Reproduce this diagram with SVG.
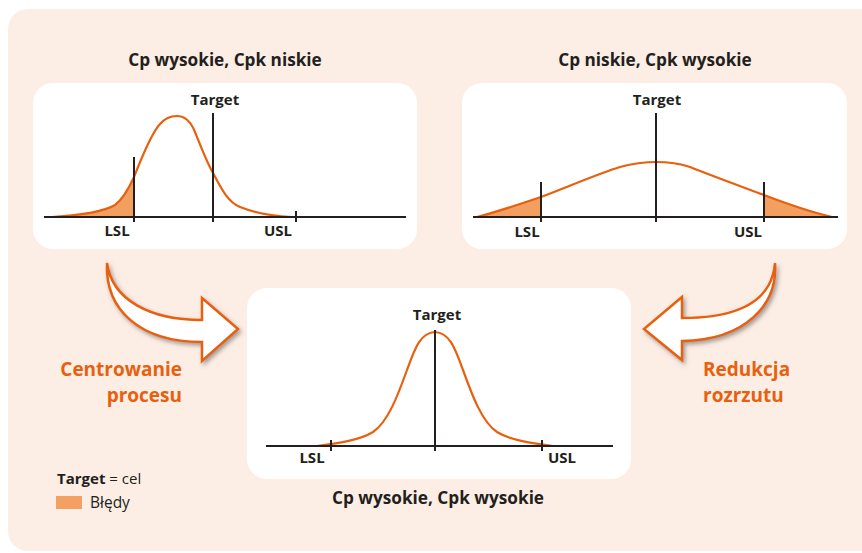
<svg xmlns="http://www.w3.org/2000/svg" width="862" height="553" viewBox="0 0 862 553">
<defs>
<style>
.t{font-family:"Open Sans","Liberation Sans",sans-serif;fill:#231f20}
.b{font-weight:bold}
.ttl{font-size:17.2px;font-weight:bold;text-anchor:middle}
.lbl{font-size:15px;font-weight:bold;text-anchor:middle}
.or{font-family:"Open Sans","Liberation Sans",sans-serif;font-size:19px;font-weight:bold;fill:#e8600e}
.box{fill:#ffffff}
.ax{stroke:#231f20;stroke-width:2;fill:none}
.cv{stroke:#e8600e;stroke-width:2.2;fill:none}
.sh{fill:#f29f5f;stroke:none}
.arr{fill:#ffffff;stroke:#e8600e;stroke-width:2.5;stroke-linejoin:miter;filter:url(#ds)}
</style>
<filter id="ds" x="-30%" y="-30%" width="160%" height="160%">
<feDropShadow dx="2" dy="2.5" stdDeviation="2" flood-color="#555" flood-opacity="0.55"/>
</filter>
</defs>
<rect width="862" height="553" fill="#ffffff"/>
<rect id="background" x="8" y="9" width="880" height="542" rx="20" fill="#fdeee5"/>

<g id="panel-left">
<text class="t ttl" x="225" y="66">Cp wysokie, Cpk niskie</text>
<rect class="box" x="33" y="83" width="384" height="166" rx="20"/>
<path class="sh" d="M52,217 C85,215 105,211 115,205 C123,199 129,188 134,177 L134,217 Z"/>
<path class="cv" d="M52,217 C85,215 105,211 115,205 C123,199 129,188 134,177 C141,160 150,135 160,124 C166,117 172,116 177,116 C186,116 191,122 195,132 C203,152 208,165 213,173 C222,190 228,202 240,207 C255,213 275,216 292,217"/>
<path class="ax" d="M44,217 H406 M134,157 V222 M213,113 V222 M296,211 V222"/>
<text class="t lbl" x="215" y="105">Target</text>
<text class="t lbl" x="117" y="236">LSL</text>
<text class="t lbl" x="278" y="236">USL</text>
</g>

<g id="panel-right">
<text class="t ttl" x="655" y="66">Cp niskie, Cpk wysokie</text>
<rect class="box" x="462" y="83" width="385" height="166" rx="20"/>
<path class="sh" d="M477,217 C500,211 520,204 541,197 L541,217 Z"/>
<path class="sh" d="M764,195 C790,205 815,213 832,217 L764,217 Z"/>
<path class="cv" d="M477,217 C500,211 520,204 541,197 C570,186 600,173 620,167 C635,163 645,162 656,162 C670,162 678,163 690,167 C715,177 740,186 764,195 C790,205 815,213 832,217"/>
<path class="ax" d="M473,217 H838 M541,182 V222 M656,113 V222 M764,182 V222"/>
<text class="t lbl" x="657" y="105">Target</text>
<text class="t lbl" x="527" y="237">LSL</text>
<text class="t lbl" x="748" y="237">USL</text>
</g>

<g id="panel-bottom">
<rect class="box" x="247" y="288" width="384" height="191" rx="20"/>
<path class="cv" d="M317,446 C340,443 360,440 373,432 C388,422 398,395 407,370 C415,348 420,333 435,332 C450,333 455,348 463,370 C472,395 482,422 497,432 C510,440 530,443 553,446"/>
<path class="ax" d="M266,446 H613 M331,440 V451 M435,330 V451 M542,440 V451"/>
<text class="t lbl" x="437" y="320">Target</text>
<text class="t lbl" x="312" y="463">LSL</text>
<text class="t lbl" x="562" y="463">USL</text>
<text class="t ttl" x="438" y="504">Cp wysokie, Cpk wysokie</text>
</g>

<g id="connectors">
<path id="arrow-left" class="arr" d="M107,263 C112,300 150,320 202,320 L202,298 L238,329 L202,361 L202,342 C140,342 105,310 107,263 Z"/>
<path id="arrow-right" class="arr" d="M775,263 C772,300 740,318 682,318 L682,297 L644,329 L682,360 L682,341 C745,340 778,305 775,263 Z"/>
</g>

<g id="label-centrowanie">
<text class="or" x="182" y="376" text-anchor="end">Centrowanie</text>
<text class="or" x="182" y="402" text-anchor="end">procesu</text>
</g>
<g id="label-redukcja">
<text class="or" x="703" y="376">Redukcja</text>
<text class="or" x="703" y="402">rozrzutu</text>
</g>

<g id="legend">
<text class="t" x="57" y="484" font-size="15"><tspan class="b">Target</tspan> = cel</text>
<rect x="56" y="496" width="26" height="13" fill="#f4a062"/>
<text class="t" x="90" y="508" font-size="15.5">Błędy</text>
</g>
</svg>
